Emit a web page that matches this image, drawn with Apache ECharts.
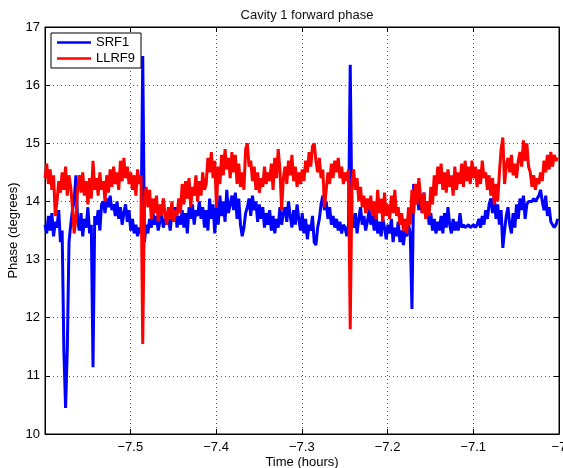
<!DOCTYPE html>
<html>
<head>
<meta charset="utf-8">
<script src="https://cdn.jsdelivr.net/npm/echarts@6/dist/echarts.min.js"></script>
<style>html,body{margin:0;padding:0;background:#fff}#c{width:563px;height:468px}</style>
</head>
<body>
<div id="c"></div>
<script>
// Sampling of the time axis (hours)
const tStart = -7.5995;
const tStep = 0.002;
const xMin = -7.5995, xMax = -7.0;
const xTickLabels = [-7.5, -7.4, -7.3, -7.2, -7.1, -7.0];
const yTickLabels = [10, 11, 12, 13, 14, 15, 16, 17];

const srf1 = [
13.6,13.45,13.75,13.5,13.8,13.4,13.65,13.55,13.85,13.3,
13.5,11.45,10.45,11.45,13.3,13.6,13.85,14.0,14.45,13.7,
13.5,13.8,13.4,13.7,13.55,13.9,13.45,13.6,11.15,13.75,
13.6,13.85,13.5,13.95,14.0,13.8,14.05,13.9,14.1,13.85,
13.95,13.75,14.0,13.7,13.9,13.6,13.8,13.95,13.65,13.85,
13.5,13.7,13.45,13.6,13.4,13.55,13.45,16.5,13.3,13.6,
13.45,13.7,13.55,13.8,13.6,13.75,13.5,13.65,13.8,13.55,
13.7,13.6,13.75,13.5,13.8,13.65,13.9,13.55,13.75,13.6,
13.85,13.55,13.8,13.45,13.9,13.7,13.95,13.6,13.85,13.75,
14.0,13.7,13.9,13.55,13.85,13.5,14.05,13.7,13.95,13.45,
13.9,13.6,14.1,13.75,14.0,13.65,14.2,13.8,13.95,14.1,
13.85,14.15,13.7,14.05,13.6,13.4,13.55,13.8,13.9,14.05,
13.75,14.1,13.85,14.0,13.65,13.95,13.7,13.9,13.55,13.8,
13.6,13.85,13.5,13.75,13.45,13.7,13.55,13.9,13.6,13.8,
13.9,13.65,14.0,13.75,13.55,13.85,13.6,13.95,13.7,13.5,
13.8,13.45,13.7,13.35,13.6,13.5,13.75,13.3,13.25,13.55,
13.7,13.95,14.1,13.85,14.0,13.7,13.9,13.6,13.75,13.55,
13.7,13.5,13.65,13.45,13.6,13.55,13.4,13.6,16.35,13.7,
13.55,13.8,13.45,13.7,13.9,13.6,13.75,13.5,13.65,13.85,
13.6,13.75,13.5,13.8,13.45,13.65,13.4,13.7,13.55,13.35,
13.6,13.45,13.7,13.3,13.55,13.4,13.65,13.3,13.5,13.25,
13.5,13.4,13.6,13.45,12.15,14.3,13.95,14.2,13.85,14.1,
13.8,14.15,13.75,14.0,13.6,13.8,13.5,13.7,13.45,13.65,
13.5,13.75,13.45,13.8,13.55,13.9,13.6,13.45,13.7,13.5,
13.65,13.5,13.8,13.55,13.6,13.55,13.55,13.6,13.55,13.55,
13.6,13.55,13.6,13.7,13.55,13.75,13.6,13.85,13.7,13.95,
14.05,13.8,14.1,13.7,13.95,13.6,13.85,13.2,13.5,13.75,
13.9,13.6,13.45,13.8,13.55,13.95,13.7,14.05,13.85,14.1,
13.7,13.95,14.0,14.0,14.0,14.05,14.0,14.0,14.1,14.2,
14.0,13.85,14.1,13.75,13.9,13.65,13.6,13.55,13.6,13.7
];

const llrf9 = [
14.4,14.65,14.3,14.55,14.2,14.45,13.75,14.0,14.35,14.15,
14.5,14.2,14.6,14.1,14.45,14.25,13.9,13.45,13.7,14.2,
14.45,14.15,14.5,14.1,14.35,13.95,14.4,14.05,14.7,14.2,
14.4,14.1,14.5,14.2,14.35,14.0,14.45,14.15,14.55,14.25,
14.6,14.3,14.5,14.2,14.7,14.35,14.75,14.4,14.6,14.3,
14.5,14.2,14.45,14.1,14.55,14.3,14.45,11.55,14.0,14.25,
13.9,14.2,13.7,14.05,13.8,14.1,13.65,13.95,13.75,14.05,
13.8,13.6,13.9,13.7,14.0,13.65,13.85,13.75,14.05,13.8,
14.3,13.95,14.35,14.05,14.4,13.9,14.25,14.1,14.45,14.0,
14.35,14.1,14.5,14.2,14.3,14.75,14.5,14.85,14.4,14.7,
13.9,14.6,14.3,14.8,14.45,14.9,14.55,14.75,14.4,14.85,
14.5,14.8,14.3,14.65,14.25,14.5,14.2,14.9,15.0,14.6,
14.7,14.35,14.6,14.2,14.5,14.15,14.4,14.25,14.6,14.3,
14.5,14.35,14.65,14.2,14.75,14.4,14.9,14.55,13.85,14.4,
14.6,14.3,14.7,14.45,14.8,14.35,14.6,14.25,14.5,14.3,
14.55,14.35,14.7,14.5,14.85,14.6,14.95,15.0,14.7,14.5,
14.75,14.4,14.55,13.9,14.2,14.5,14.3,14.65,14.4,14.7,
14.5,14.75,14.4,14.6,14.3,14.5,14.35,14.55,11.8,14.3,
14.55,14.2,14.4,14.0,14.25,13.9,14.1,13.8,14.05,13.85,
14.1,13.75,14.0,13.7,14.2,13.8,14.05,13.65,14.15,13.75,
13.95,13.7,14.1,13.8,14.2,13.75,13.9,13.6,13.8,13.5,
13.7,13.45,13.9,13.6,14.2,13.8,14.3,13.95,14.4,14.1,
13.8,14.15,13.7,14.0,13.75,14.25,13.95,14.45,14.1,14.6,
14.3,14.65,14.2,14.5,14.15,14.55,14.25,14.45,14.1,14.6,
14.2,14.5,14.3,14.65,14.25,14.7,14.35,14.6,14.3,14.7,
14.4,14.6,14.25,14.55,14.3,14.7,14.4,14.5,14.2,14.45,
14.1,14.4,13.95,14.3,14.0,14.5,14.9,15.1,14.3,14.6,
14.75,14.5,14.8,14.45,14.65,14.4,14.7,14.85,14.6,15.05,
14.7,15.0,14.6,14.5,14.25,14.45,14.2,14.4,14.3,14.5,
14.35,14.7,14.5,14.8,14.55,14.85,14.6,14.8,14.7,14.75
];

const pair = arr => arr.map((v, i) => [tStart + i * tStep, v]);
const fmtX = v => {
  const r = Math.round(v * 10) / 10;
  const s = Number.isInteger(r) ? String(Math.abs(r)) : Math.abs(r).toFixed(1);
  return (r < 0 ? '\u2212' : '') + s;
};
const FONT = 'Liberation Sans, Arial, Helvetica, sans-serif';
const gridLine = { show: true, lineStyle: { color: '#555', width: 1, type: [1, 3] } };
const lineIcon = 'path://M0,0L34,0L34,2.5L0,2.5Z';

const chart = echarts.init(document.getElementById('c'), null, { renderer: 'canvas' });
chart.setOption({
  animation: false,
  backgroundColor: '#fff',
  title: {
    text: 'Cavity 1 forward phase', left: 302, top: 4, textAlign: 'center',
    textStyle: { fontFamily: FONT, fontSize: 13, fontWeight: 'normal', color: '#111' }
  },
  legend: {
    left: 51, top: 33, orient: 'vertical',
    data: [{ name: 'SRF1', icon: lineIcon }, { name: 'LLRF9', icon: lineIcon }],
    backgroundColor: '#fff', borderColor: '#000', borderWidth: 1,
    padding: [3, 6, 3, 6], itemGap: 3, itemWidth: 34, itemHeight: 14,
    textStyle: { fontFamily: FONT, fontSize: 13, color: '#000' }
  },
  grid: { left: 45, top: 27, right: 4, bottom: 34, outerBoundsMode: 'none', containLabel: false,
          show: true, borderColor: '#000', borderWidth: 1 },
  xAxis: [{
    type: 'value', min: xMin, max: xMax, splitNumber: 6,
    name: 'Time (hours)', nameLocation: 'middle', nameGap: 22, nameMoveOverlap: false,
    nameTextStyle: { fontFamily: FONT, fontSize: 13, color: '#000' },
    axisLine: { show: true, lineStyle: { color: '#000', width: 1 } },
    axisTick: { show: true, inside: true, length: 5, lineStyle: { color: '#000' } },
    axisLabel: { showMinLabel: false, margin: 7, fontFamily: FONT, fontSize: 13, color: '#000', formatter: fmtX },
    splitLine: gridLine
  }, {
    type: 'value', min: xMin, max: xMax, splitNumber: 6, position: 'top',
    axisLine: { show: true, lineStyle: { color: '#000', width: 1 } },
    axisTick: { show: true, inside: true, length: 5, lineStyle: { color: '#000' } },
    axisLabel: { show: false }, splitLine: { show: false }
  }],
  yAxis: [{
    type: 'value', min: yTickLabels[0], max: yTickLabels[yTickLabels.length - 1], interval: 1,
    name: 'Phase (degrees)', nameLocation: 'middle', nameGap: 25, nameMoveOverlap: false,
    nameTextStyle: { fontFamily: FONT, fontSize: 13, color: '#000' },
    axisLine: { show: true, lineStyle: { color: '#000', width: 1 } },
    axisTick: { show: true, inside: true, length: 5, lineStyle: { color: '#000' } },
    axisLabel: { margin: 5, fontFamily: FONT, fontSize: 13, color: '#000' },
    splitLine: gridLine
  }, {
    type: 'value', min: yTickLabels[0], max: yTickLabels[yTickLabels.length - 1], interval: 1, position: 'right',
    axisLine: { show: true, lineStyle: { color: '#000', width: 1 } },
    axisTick: { show: true, inside: true, length: 5, lineStyle: { color: '#000' } },
    axisLabel: { show: false }, splitLine: { show: false }
  }],
  series: [{
    name: 'SRF1', type: 'line', symbol: 'none', data: pair(srf1),
    lineStyle: { color: '#0000ff', width: 3 }, itemStyle: { color: '#0000ff' }
  }, {
    name: 'LLRF9', type: 'line', symbol: 'none', data: pair(llrf9),
    lineStyle: { color: '#ff0000', width: 3 }, itemStyle: { color: '#ff0000' }
  }]
});
</script>
</body>
</html>
